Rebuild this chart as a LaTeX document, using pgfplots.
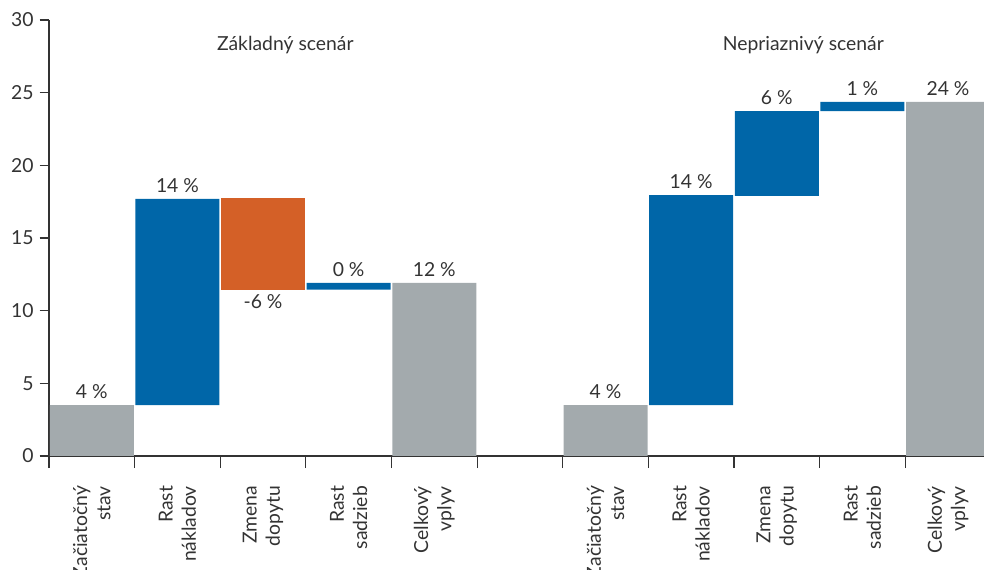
\documentclass[border=0pt]{standalone}
\usepackage{pgfplots}
\pgfplotsset{compat=1.18}
\usepackage{fontspec}
\setmainfont{Lato}
\definecolor{cgray}{HTML}{A3AAAD}
\definecolor{cblue}{HTML}{0066A8}
\definecolor{corange}{HTML}{D46027}
\definecolor{ctext}{HTML}{333333}
\tikzset{vl/.style={text=ctext, anchor=south, yshift=1pt}}
\begin{document}
\begin{tikzpicture}[font=\fontsize{14.5pt}{17.5pt}\selectfont]
\begin{axis}[
  at={(0pt,0pt)}, anchor=south west,
  scale only axis,
  width=701.25pt, height=327pt,
  xmin=-0.5, xmax=10.42,
  ymin=0, ymax=30,
  ybar stacked,
  bar width=0.982,
  axis x line*=bottom, axis y line*=left,
  axis line style={ctext, line width=0.8pt},
  ytick={0,5,10,15,20,25,30},
  yticklabels={0,5,10,15,20,25,30},
  xtick={0,1,2,3,4,5,6,7,8,9,10},
  xticklabels={{Začiatočný\\stav},{Rast\\nákladov},{Zmena\\dopytu},{Rast\\sadzieb},{Celkový\\vplyv},{},{Začiatočný\\stav},{Rast\\nákladov},{Zmena\\dopytu},{Rast\\sadzieb},{Celkový\\vplyv}},
  major x tick style={draw=none},
  minor xtick={-0.5,0.5,1.5,2.5,3.5,4.5,5.5,6.5,7.5,8.5,9.5},
  minor x tick style={draw=ctext, line width=0.8pt},
  major y tick style={draw=ctext, line width=0.8pt},
  tick align=outside,
  major tick length=7pt,
  minor tick length=9pt,
  xticklabel style={rotate=90, anchor=east, align=right, text=ctext, xshift=-12pt},
  yticklabel style={text=ctext, xshift=-1pt},
  clip=true,
]
\addplot[fill=none, draw=none] coordinates {(0,0) (1,3.5) (2,11.44) (3,11.44) (4,0) (5,0) (6,0) (7,3.5) (8,17.9) (9,23.73) (10,0)};
\addplot[fill=cgray, draw=none] coordinates {(0,3.5) (1,0) (2,0) (3,0) (4,11.92) (5,0) (6,3.5) (7,0) (8,0) (9,0) (10,24.37)};
\addplot[fill=cblue, draw=none] coordinates {(0,0) (1,14.2) (2,0) (3,0.48) (4,0) (5,0) (6,0) (7,14.45) (8,5.83) (9,0.64) (10,0)};
\addplot[fill=corange, draw=none] coordinates {(0,0) (1,0) (2,6.34) (3,0) (4,0) (5,0) (6,0) (7,0) (8,0) (9,0) (10,0)};
\node[vl] at (axis cs:0,3.5) {4 \%};
\node[vl] at (axis cs:1,17.7) {14 \%};
\node[text=ctext, anchor=north] at (axis cs:2,11.44) {-6 \%};
\node[vl] at (axis cs:3,11.92) {0 \%};
\node[vl] at (axis cs:4,11.92) {12 \%};
\node[vl] at (axis cs:6,3.5) {4 \%};
\node[vl] at (axis cs:7,17.95) {14 \%};
\node[vl] at (axis cs:8,23.73) {6 \%};
\node[vl] at (axis cs:9,24.37) {1 \%};
\node[vl] at (axis cs:10,24.37) {24 \%};
\node[text=ctext] at (axis cs:2.26,28.3) {Základný scenár};
\node[text=ctext] at (axis cs:8.31,28.3) {Nepriaznivý scenár};
\end{axis}
\pgfresetboundingbox
\path (-36.75pt,-85.5pt) rectangle (701.25pt,342pt);
\end{tikzpicture}
\end{document}
